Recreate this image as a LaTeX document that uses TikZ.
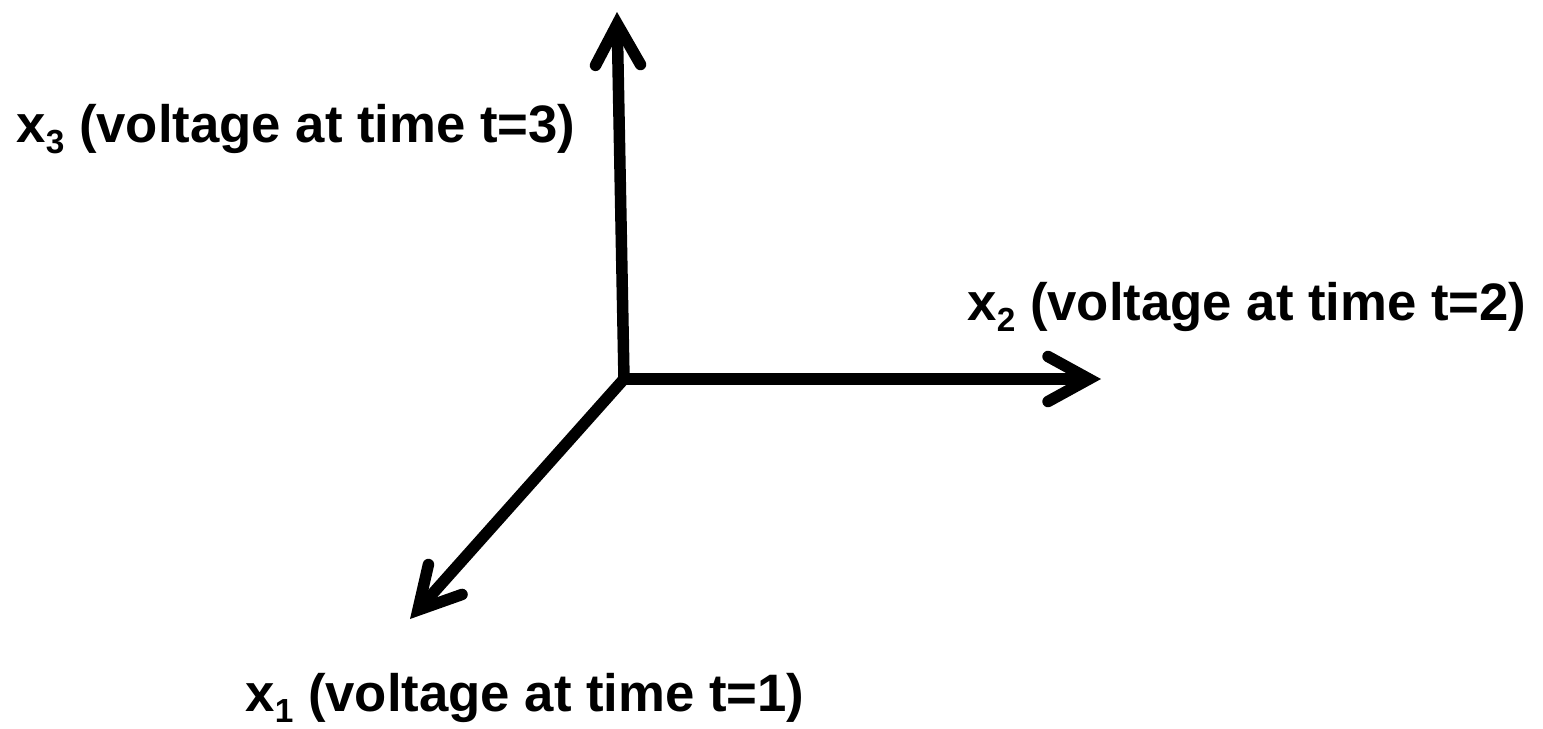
\documentclass[tikz,border=0pt]{standalone}
\usepackage{fontspec}
\setmainfont{Liberation Sans}
\usetikzlibrary{arrows.meta}

\newcommand{\axsub}[1]{\raisebox{-6.5pt}{\fontsize{19}{19}\selectfont #1}}

\begin{document}
\begin{tikzpicture}[x=0.02cm, y=-0.02cm,
  axis/.style={line width=0.23cm, line cap=round, -{Straight Barb[length=0.82cm, width=0.9cm, line join=miter, line cap=round]}},
  axislabel/.style={font=\fontsize{30}{36}\selectfont\bfseries, inner sep=0pt, anchor=base}
]
\useasboundingbox (0,0) rectangle (1543,728);

% Origin and axis ends
\coordinate (origin) at (624,379);
\coordinate (x1end) at (410,619);
\coordinate (x2end) at (1101,379);
\coordinate (x3end) at (617,12);

% Axes
\draw[axis] (origin) -- (x1end);
\draw[axis] (origin) -- (x2end);
\draw[axis] (origin) -- (x3end);

% Labels
\node[axislabel] (x1label) at (525,711) {x\axsub{1} (voltage at time t=1)};
\node[axislabel] (x2label) at (1247,320) {x\axsub{2} (voltage at time t=2)};
\node[axislabel] (x3label) at (296,142) {x\axsub{3} (voltage at time t=3)};

\end{tikzpicture}
\end{document}
